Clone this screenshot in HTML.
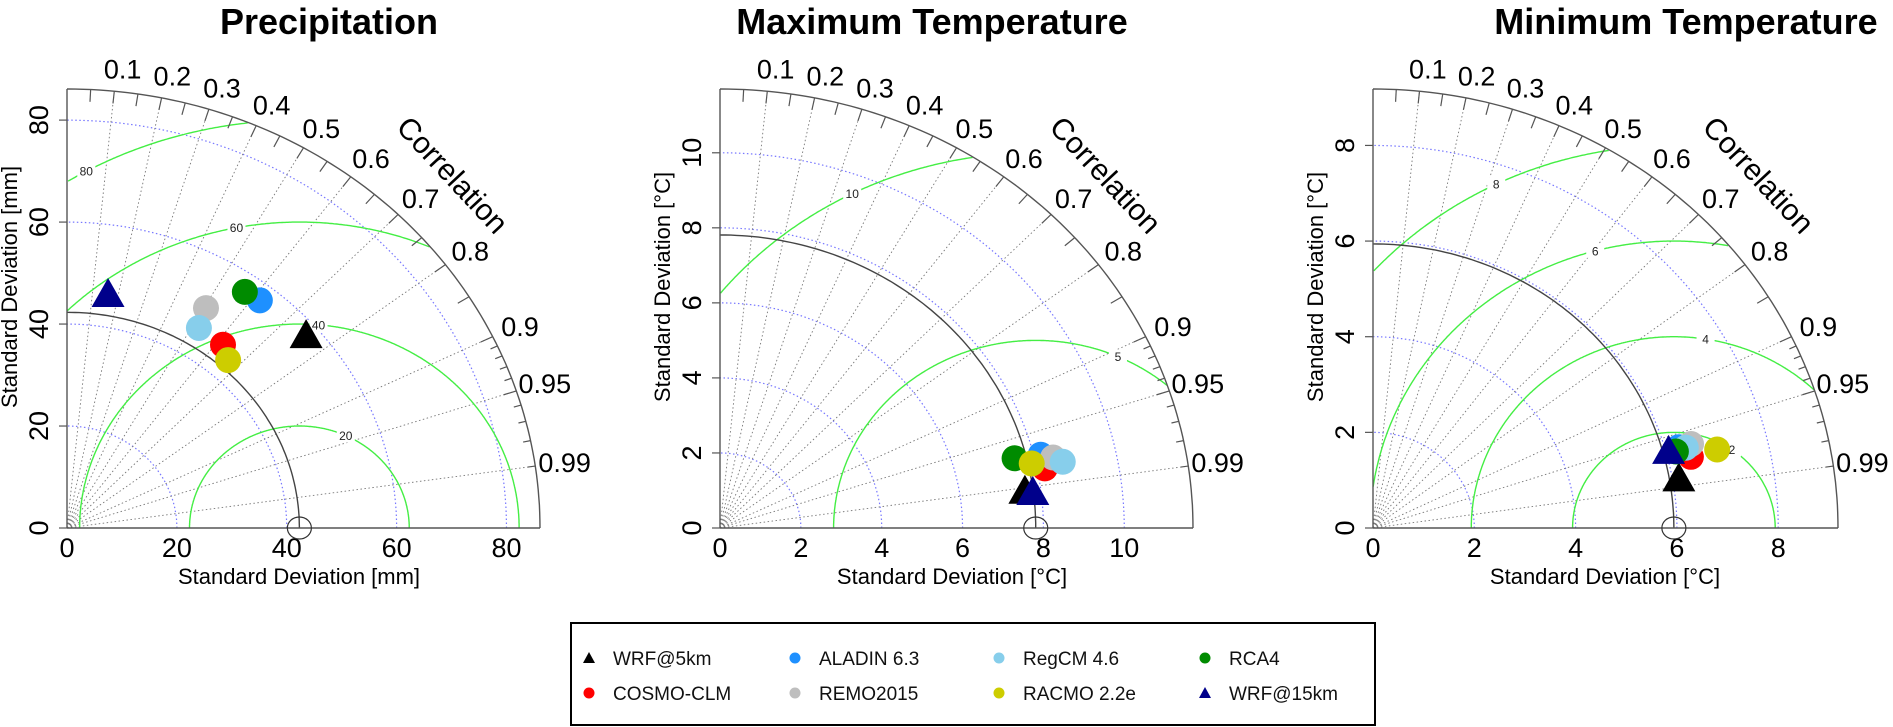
<!DOCTYPE html>
<html><head><meta charset="utf-8"><style>
html,body{margin:0;padding:0;background:#fff;}
svg{display:block;font-family:"Liberation Sans",Arial,sans-serif;}
</style></head><body>
<svg id="chart" width="1893" height="727" viewBox="0 0 1893 727" xmlns="http://www.w3.org/2000/svg">
<rect width="1893" height="727" fill="#fff"/>
<g id="panels"></g>
<g id="legend">
<rect x="571" y="623" width="804" height="102" fill="#fff" stroke="#000" stroke-width="2"/>
</g>
</svg>
<script>
const models = ['WRF@5km','COSMO-CLM','ALADIN 6.3','REMO2015','RegCM 4.6','RCA4','RACMO 2.2e','WRF@15km'];
const precipSD   = [57.8, 45.8, 56.8, 50.0, 46.0, 56.5, 44.1, 46.7];
const precipCorr = [0.753, 0.620, 0.618, 0.506, 0.522, 0.573, 0.665, 0.160];
const tmaxSD     = [7.61, 8.19, 8.17, 8.45, 8.66, 7.52, 7.90, 7.80];
const tmaxCorr   = [0.991, 0.981, 0.971, 0.975, 0.979, 0.969, 0.976, 0.992];
const tminSD     = [6.13, 6.45, 6.27, 6.52, 6.40, 6.19, 6.99, 6.06];
const tminCorr   = [0.985, 0.973, 0.963, 0.963, 0.965, 0.966, 0.972, 0.963];
const refSD      = [42.3, 7.81, 5.94];
const maxSD      = [86.1, 11.7, 9.18];
const sdTicks1 = [0, 20, 40, 60, 80];
const sdTicks2 = [0, 2, 4, 6, 8, 10];
const sdTicks3 = [0, 2, 4, 6, 8];
const rmsLevels1 = [20, 40, 60, 80];
const rmsLevels2 = [5, 10];
const rmsLevels3 = [2, 4, 6, 8];
const corrLabels = [0.1,0.2,0.3,0.4,0.5,0.6,0.7,0.8,0.9,0.95,0.99];
const titles = ['Precipitation','Maximum Temperature','Minimum Temperature'];
const xTitles = ['Standard Deviation [mm]','Standard Deviation [°C]','Standard Deviation [°C]'];

const colors = ['#000000','#ff0000','#1e90ff','#bebebe','#87ceeb','#008b00','#cdcd00','#00008b'];
const shapes = ['tri','c','c','c','c','c','c','tri'];
const NS = 'http://www.w3.org/2000/svg';
function mk(tag, attrs, parent){const e=document.createElementNS(NS,tag);for(const k in attrs)e.setAttribute(k,attrs[k]);parent.appendChild(e);return e;}

const layout = [
 {ox:67, Rx:473, titleX:329, rmsAng:[65,85,101,119]},
 {ox:720, Rx:473, titleX:932, rmsAng:[66,117]},
 {ox:1373, Rx:465, titleX:1686, rmsAng:[55,81,105,116]}
];
const sdSets=[precipSD,tmaxSD,tminSD], corrSets=[precipCorr,tmaxCorr,tminCorr];
const tickSets=[sdTicks1,sdTicks2,sdTicks3], rmsSets=[rmsLevels1,rmsLevels2,rmsLevels3];
const root=document.getElementById('panels');

layout.forEach((L,pi)=>{
  const max=maxSD[pi], ref=refSD[pi];
  const oy=528, Ry=439, kx=L.Rx/max, ky=Ry/max;
  const X=u=>L.ox+u*kx, Y=v=>oy-v*ky;
  const g=mk('g',{},root);
  
  
  const polar=(sd,a)=>[X(sd*Math.cos(a)),Y(sd*Math.sin(a))];
  const arcPath=(sd)=>{let d='';for(let i=0;i<=90;i++){const a=i*Math.PI/180;const p=polar(sd,a);d+=(i?'L':'M')+p[0].toFixed(1)+','+p[1].toFixed(1);}return d;};
  const t=mk('text',{x:L.titleX,y:34,'text-anchor':'middle','font-size':36,'font-weight':'bold'},g);t.textContent=titles[pi];
  
  
  tickSets[pi].forEach(v=>{if(v>0&&v<max){const a=mk('path',{d:arcPath(v),fill:'none',stroke:'#7777ff','stroke-width':1.2,'stroke-dasharray':'1.5,2.5'},g);
    
    }});
  corrLabels.forEach(c=>{const a=Math.acos(c);const p=polar(max,a);
    const l=mk('line',{x1:X(0),y1:Y(0),x2:p[0],y2:p[1],stroke:'#777','stroke-width':0.9,'stroke-dasharray':'1.5,2.5'},g);
    
    });
  rmsSets[pi].forEach((r,ri)=>{let d='',pen=false;
    for(let i=0;i<=720;i++){const a=i*Math.PI/720;const u=ref+r*Math.cos(a),v=r*Math.sin(a);
      if(u>=0&&u*u+v*v<=max*max){d+=(pen?'L':'M')+X(u).toFixed(1)+','+Y(v).toFixed(1);pen=true;}else pen=false;}
    const p=mk('path',{d:d,fill:'none',stroke:'#44ee44','stroke-width':1.4},g);
    
    
    const ang=L.rmsAng[ri]*Math.PI/180;const lx=X(ref+r*Math.cos(ang)),ly=Y(r*Math.sin(ang));
    mk('rect',{x:lx-9,y:ly-7,width:18,height:14,fill:'#fff'},g);
    const tx=mk('text',{x:lx,y:ly+4.5,'text-anchor':'middle','font-size':12,fill:'#222'},g);tx.textContent=r;
    
    
  });
  mk('path',{d:arcPath(max),fill:'none',stroke:'#555','stroke-width':1.4},g);
  const ra=mk('path',{d:arcPath(ref),fill:'none',stroke:'#444','stroke-width':1.4},g);
  
  
  for(let k=1;k<20;k++){const c=k*0.05;const a=Math.acos(c);const p1=polar(max,a),p2=polar(max*0.972,a);
    mk('line',{x1:p1[0],y1:p1[1],x2:p2[0],y2:p2[1],stroke:'#555','stroke-width':1.2},g);}
  for(let k=91;k<100;k++){if(k==95)continue;const a=Math.acos(k/100);const p1=polar(max,a),p2=polar(max*0.984,a);
    mk('line',{x1:p1[0],y1:p1[1],x2:p2[0],y2:p2[1],stroke:'#555','stroke-width':1.2},g);}
  corrLabels.forEach(c=>{const a=Math.acos(c);const p=polar(max*1.05,a);
    const tx=mk('text',{x:p[0]+6,y:p[1]+9,'text-anchor':'middle','font-size':27},g);tx.textContent=c;
    
    });
  const ct=mk('text',{x:0,y:0,'text-anchor':'middle','font-size':30,transform:`translate(${L.ox+378},${oy-346}) rotate(47)`},g);ct.textContent='Correlation';
  
  
  mk('line',{x1:X(0),y1:Y(0),x2:X(0),y2:Y(max),stroke:'#555','stroke-width':1.4},g);
  mk('line',{x1:X(0),y1:Y(0),x2:X(max),y2:Y(0),stroke:'#555','stroke-width':1.4},g);
  tickSets[pi].forEach(v=>{
    mk('line',{x1:X(0)-8,y1:Y(v),x2:X(0),y2:Y(v),stroke:'#555','stroke-width':1.2},g);
    const yl=mk('text',{x:0,y:0,'text-anchor':'middle','font-size':27,transform:`translate(${X(0)-19},${Y(v)}) rotate(-90)`},g);yl.textContent=v;
    
    
    const xl=mk('text',{x:X(v),y:557,'text-anchor':'middle','font-size':27},g);xl.textContent=v;
    
    
  });
  const yt=mk('text',{x:0,y:0,'text-anchor':'middle','font-size':22,transform:`translate(${L.ox-50},287) rotate(-90)`},g);yt.textContent=xTitles[pi];
  
  
  const xt=mk('text',{x:L.ox+232,y:584,'text-anchor':'middle','font-size':22},g);xt.textContent=xTitles[pi];
  
  
  const rp=mk('ellipse',{cx:X(ref),cy:Y(0),rx:12,ry:11,fill:'none',stroke:'#333','stroke-width':1.2},g);
  
  
  const sds=sdSets[pi],cs=corrSets[pi];
  models.forEach((m,i)=>{const a=Math.acos(cs[i]);const p=polar(sds[i],a);let e;
    if(shapes[i]==='c'){e=mk('circle',{cx:p[0],cy:p[1],r:13,fill:colors[i]},g);}
    else{e=mk('polygon',{points:`${p[0]-16.5},${p[1]+14} ${p[0]+16.5},${p[1]+14} ${p[0]},${p[1]-15}`,fill:colors[i]},g);}
    
    
  });
});

const lg=document.getElementById('legend');
const legOrder=[0,2,4,5,1,3,6,7];
const colX=[589,795,999,1205], rowY=[658,693];
legOrder.forEach((mi,k)=>{const cx=colX[k%4],cy=rowY[Math.floor(k/4)];let s;
  if(shapes[mi]==='c'){s=mk('circle',{cx:cx,cy:cy,r:5.5,fill:colors[mi]},lg);}
  else{s=mk('polygon',{points:`${cx-6},${cy+5} ${cx+6},${cy+5} ${cx},${cy-6}`,fill:colors[mi]},lg);}
  
  
  const t=mk('text',{x:cx+24,y:cy+7,'font-size':19,fill:'#111'},lg);t.textContent=models[mi];
  
  
});
</script>
</body></html>
